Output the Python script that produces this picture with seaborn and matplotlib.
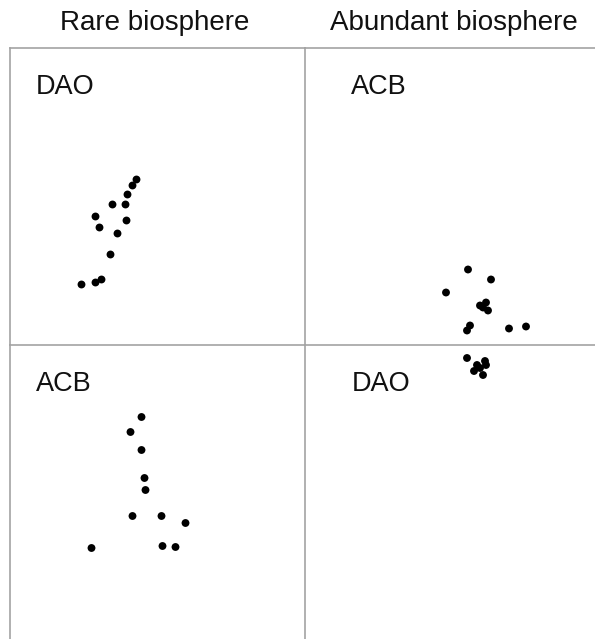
import matplotlib
matplotlib.use("Agg")
import matplotlib.pyplot as plt
import seaborn as sns
import pandas as pd

sns.set_theme(style="white")
plt.rcParams["font.family"] = ["Liberation Sans", "DejaVu Sans"]

# Ordination scores per panel (axis 1, axis 2)
rare_dao_x = [-0.21, -0.25, -0.30, -0.45, -0.32, -0.62, -0.31, -0.58, -0.40, -0.47, -0.56, -0.62, -0.76]
rare_dao_y = [0.17, 0.11, 0.02, -0.08, -0.08, -0.20, -0.24, -0.31, -0.37, -0.58, -0.83, -0.86, -0.88]

rare_acb_x = [-0.16, -0.27, -0.16, -0.13, -0.12, -0.25, 0.04, 0.28, -0.66, 0.05, 0.18]
rare_acb_y = [0.75, 0.60, 0.42, 0.14, 0.02, -0.24, -0.24, -0.31, -0.56, -0.54, -0.55]

abund_acb_x = [0.18, 0.41, -0.04, 0.30, 0.36, 0.38, 0.33, 0.20, 0.17, 0.59, 0.76]
abund_acb_y = [-0.73, -0.83, -0.96, -1.09, -1.06, -1.14, -1.11, -1.29, -1.34, -1.32, -1.30]

abund_dao_x = [0.17, 0.35, 0.27, 0.30, 0.24, 0.33, 0.36]
abund_dao_y = [1.34, 1.31, 1.27, 1.24, 1.21, 1.17, 1.27]

col_titles = ["Rare biosphere", "Abundant biosphere"]

panels = [
    # (row, col, label, x, y)
    (0, 0, "DAO", rare_dao_x, rare_dao_y),
    (0, 1, "ACB", abund_acb_x, abund_acb_y),
    (1, 0, "ACB", rare_acb_x, rare_acb_y),
    (1, 1, "DAO", abund_dao_x, abund_dao_y),
]

W, H = 595, 639
fig = plt.figure(figsize=(W / 100, H / 100), dpi=100)
fig.patch.set_facecolor("white")

col_edges = [(10, 295), (305, 290)]
row_edges = [(48, 297), (345, 294)]
line_col = "#a3a3a3"

for row, col, label, xs, ys in panels:
    x0, w = col_edges[col]
    y0, h = row_edges[row]
    ax = fig.add_axes([x0 / W, 1 - (y0 + h) / H, w / W, h / H])
    df = pd.DataFrame({"axis1": xs, "axis2": ys})
    sns.scatterplot(data=df, x="axis1", y="axis2", ax=ax, color="black",
                    s=32, edgecolor="none", clip_on=False)
    ax.set_xlim(-w / 200, w / 200)
    ax.set_ylim(-h / 200, h / 200)
    ax.set_xticks([])
    ax.set_yticks([])
    ax.set_xlabel("")
    ax.set_ylabel("")
    ax.set_facecolor("white")
    for side in ["right", "bottom"]:
        ax.spines[side].set_visible(False)
    for side in ["left", "top"]:
        ax.spines[side].set_visible(True)
        ax.spines[side].set_color(line_col)
        ax.spines[side].set_linewidth(1.2)
    lx = 0.088 if col == 0 else 0.160
    ax.text(lx, 0.845, label, transform=ax.transAxes, fontsize=19.5,
            ha="left", va="baseline", color="#111111")

title_x = [155, 454]
for tx, t in zip(title_x, col_titles):
    fig.text(tx / W, 1 - 30 / H, t, ha="center", va="baseline",
             fontsize=20, color="#111111")

fig.savefig("out.png", dpi=100, facecolor="white")
